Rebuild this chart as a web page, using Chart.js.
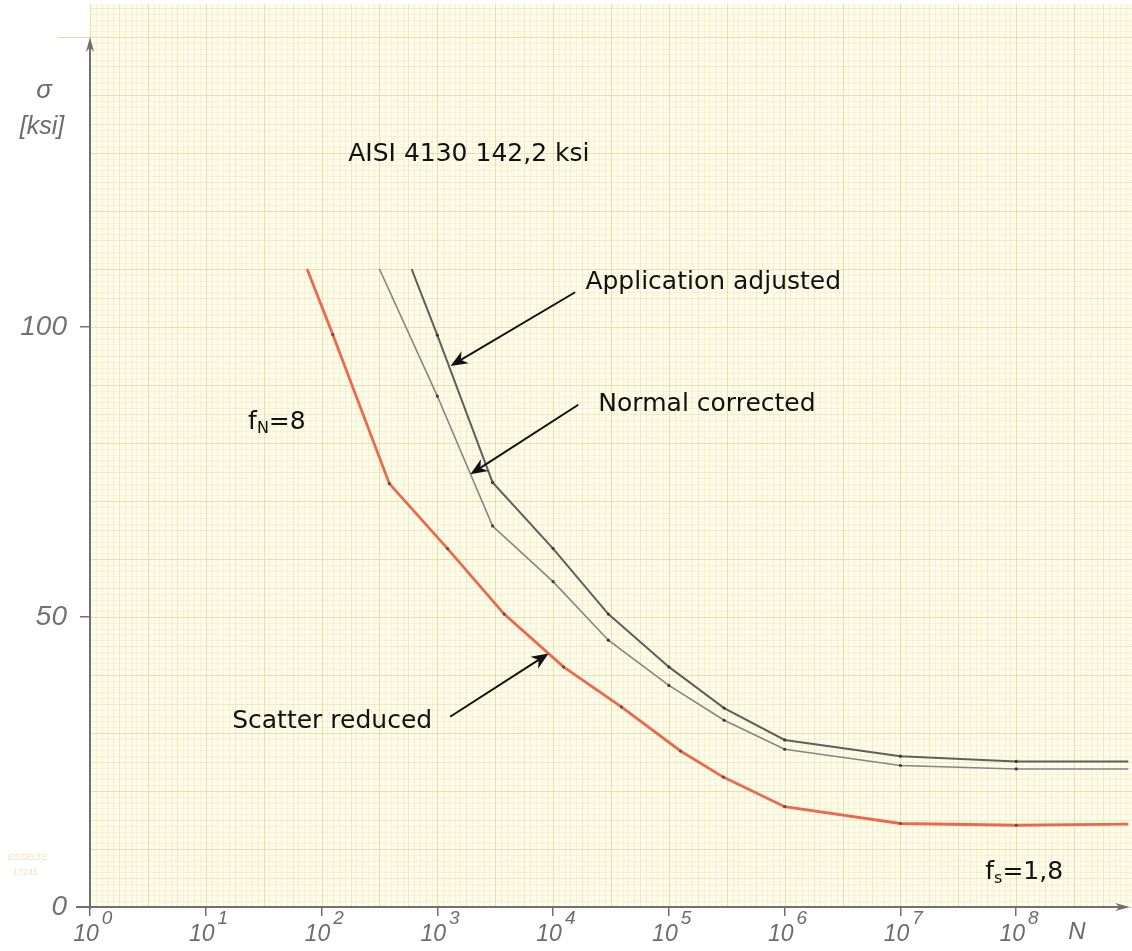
<!DOCTYPE html>
<html>
<head>
<meta charset="utf-8">
<script src="https://cdn.jsdelivr.net/npm/chart.js@4.4.1/dist/chart.umd.min.js"></script>
<style>
  html, body { margin: 0; padding: 0; background: #fff; }
  #wrap { width: 1132px; height: 951px; }
</style>
</head>
<body>
<div id="wrap"><canvas id="snChart" width="1132" height="951"></canvas></div>
<script>
// S-N curves for AISI 4130: cycles N against stress amplitude sigma [ksi]
const appliedN  = [600, 1000, 3000, 10000, 30000, 100000, 300000, 1e6, 1e7, 1e8, 9.3e8];
const appliedS  = [110, 98.6, 73.2, 61.8, 50.5, 41.4, 34.3, 28.8, 26.0, 25.1, 25.1];
const normalN   = [316, 1000, 3000, 10000, 30000, 100000, 300000, 1e6, 1e7, 1e8, 9.3e8];
const normalS   = [110, 88.1, 65.7, 56.1, 46.0, 38.2, 32.2, 27.2, 24.4, 23.8, 23.8];
const scatterN  = [75, 125, 385, 1225, 3780, 12300, 38900, 126000, 295000, 1e6, 1e7, 1e8, 9.3e8];
const scatterS  = [110, 98.7, 73.0, 61.8, 50.5, 41.4, 34.5, 26.9, 22.4, 17.3, 14.4, 14.1, 14.3];

const decades = [0, 1, 2, 3, 4, 5, 6, 7, 8];
const stressTicks = [0, 50, 100];
const supDigits = ['0', '1', '2', '3', '4', '5', '6', '7', '8'];

// labels and arrows, placed in (N, sigma)
const labels = [
  { text: 'AISI 4130 142,2 ksi', n: 170, s: 129.7 },
  { text: 'Application adjusted', n: 19000, s: 107.6 },
  { text: 'Normal corrected', n: 24600, s: 86.7 },
  { text: 'Scatter reduced', n: 16.9, s: 31.9 }
];
const factors = [
  { base: 'f', sub: 'N', rest: '=8', n: 23.2, s: 83.6 },
  { base: 'f', sub: 's', rest: '=1,8', n: 5.4e7, s: 6.0 }
];
const arrows = [
  { from: [15500, 106.0], to: [1300, 93.3] },
  { from: [16500, 86.6], to: [1930, 74.6] },
  { from: [1290, 32.8], to: [9140, 43.7] }
];

const HAND = "'Liberation Sans Narrow', 'Liberation Sans', sans-serif";
const TEXT = "'DejaVu Sans', Verdana, sans-serif";

function pairs(xs, ys) {
  return xs.map((v, i) => ({ x: v, y: ys[i] }));
}

function markers(len) {
  return Array.from({ length: len }, (_, i) => (i === 0 || i === len - 1) ? 0 : 1.6);
}

const paperPlugin = {
  id: 'paper',
  beforeDraw(chart) {
    const { ctx, chartArea: a, scales: { x, y } } = chart;
    ctx.save();
    ctx.fillStyle = '#fdfcea';
    ctx.fillRect(a.left, a.top, a.right - a.left, a.bottom - a.top);
    ctx.lineWidth = 1;
    const passes = [
      { test: k => k % 5 !== 0, colour: 'rgba(228,228,175,0.38)' },
      { test: k => k % 5 === 0 && k % 10 !== 0, colour: 'rgba(222,222,160,0.5)' },
      { test: k => k % 10 === 0, colour: 'rgba(218,216,150,0.72)' }
    ];
    passes.forEach(p => {
      ctx.strokeStyle = p.colour;
      ctx.beginPath();
      for (let k = 0; k <= 180; k++) {
        if (!p.test(k)) continue;
        const px = Math.round(x.getPixelForValue(Math.pow(10, k / 20))) + 0.5;
        if (px > a.right) break;
        ctx.moveTo(px, a.top);
        ctx.lineTo(px, a.bottom);
      }
      for (let j = 0; j <= 160; j++) {
        if (!p.test(j)) continue;
        const py = Math.round(y.getPixelForValue(j)) + 0.5;
        if (py < a.top) break;
        ctx.moveTo(a.left, py);
        ctx.lineTo(a.right, py);
      }
      ctx.stroke();
    });
    // ruled line running out past the left edge at 150
    const y150 = Math.round(y.getPixelForValue(150)) + 0.5;
    ctx.strokeStyle = 'rgba(218,216,150,0.8)';
    ctx.beginPath();
    ctx.moveTo(a.left - 32, y150);
    ctx.lineTo(a.left, y150);
    ctx.stroke();

    // paper maker's imprint
    ctx.fillStyle = 'rgba(222,205,130,0.55)';
    ctx.font = "9px 'Liberation Sans Narrow', 'Liberation Sans'";
    ctx.textAlign = 'left';
    ctx.textBaseline = 'middle';
    ctx.fillText('ESSELTE', 8, 858);
    ctx.fillText('17245', 13, 873);
    ctx.restore();
  }
};

function arrowHead(ctx, x1, y1, x2, y2, len, half) {
  const ang = Math.atan2(y2 - y1, x2 - x1);
  const c = Math.cos(ang), s = Math.sin(ang);
  ctx.beginPath();
  ctx.moveTo(x2, y2);
  ctx.lineTo(x2 - len * c + half * s, y2 - len * s - half * c);
  ctx.lineTo(x2 - len * 0.7 * c, y2 - len * 0.7 * s);
  ctx.lineTo(x2 - len * c - half * s, y2 - len * s + half * c);
  ctx.closePath();
  ctx.fill();
}

const axesPlugin = {
  id: 'handAxes',
  afterDraw(chart) {
    const { ctx, chartArea: a, scales: { x, y } } = chart;
    ctx.save();
    const x0 = x.getPixelForValue(1);
    const y0 = y.getPixelForValue(0);
    const yTop = y.getPixelForValue(150);
    ctx.strokeStyle = '#707070';
    ctx.fillStyle = '#707070';
    ctx.lineWidth = 2;
    ctx.beginPath();
    ctx.moveTo(x0, y0 + 2);
    ctx.lineTo(x0, yTop + 6);
    ctx.moveTo(x0 - 14, y0);
    ctx.lineTo(a.right - 8, y0);
    ctx.stroke();
    arrowHead(ctx, x0, y0, x0, yTop, 15, 4);
    arrowHead(ctx, x0, y0, a.right - 2, y0, 15, 4);

    // decade labels 10^k
    ctx.fillStyle = '#6c6c6c';
    ctx.textBaseline = 'alphabetic';
    decades.forEach(d => {
      const px = x.getPixelForValue(Math.pow(10, d));
      ctx.font = 'italic 23px ' + HAND;
      ctx.textAlign = 'center';
      ctx.fillText('10', px - 4, y0 + 34);
      const w = ctx.measureText('10').width;
      ctx.font = 'italic 19px ' + HAND;
      ctx.textAlign = 'left';
      ctx.fillText(supDigits[d], px - 4 + w / 2 + 3, y0 + 17);
    });
    ctx.font = 'italic 24px ' + HAND;
    ctx.textAlign = 'left';
    ctx.fillText('N', x.getPixelForValue(1e8) + 52, y0 + 32);

    // sigma axis title
    ctx.textAlign = 'center';
    ctx.font = 'italic 26px ' + HAND;
    ctx.fillText('\u03c3', 44, 98);
    ctx.font = 'italic 25px ' + HAND;
    ctx.fillText('[ksi]', 42, 134);
    ctx.restore();
  }
};

const notesPlugin = {
  id: 'notes',
  afterDatasetsDraw(chart) {
    const { ctx, scales: { x, y } } = chart;
    ctx.save();
    ctx.fillStyle = '#111';
    ctx.strokeStyle = '#111';
    ctx.textAlign = 'left';
    ctx.textBaseline = 'middle';
    ctx.font = '25px ' + TEXT;
    labels.forEach(l => {
      ctx.fillText(l.text, x.getPixelForValue(l.n), y.getPixelForValue(l.s));
    });
    factors.forEach(f => {
      let px = x.getPixelForValue(f.n);
      const py = y.getPixelForValue(f.s);
      ctx.font = '25px ' + TEXT;
      ctx.fillText(f.base, px, py);
      px += ctx.measureText(f.base).width;
      ctx.font = '16px ' + TEXT;
      ctx.fillText(f.sub, px, py + 7);
      px += ctx.measureText(f.sub).width;
      ctx.font = '25px ' + TEXT;
      ctx.fillText(f.rest, px, py);
    });
    ctx.lineWidth = 2;
    arrows.forEach(ar => {
      const x1 = x.getPixelForValue(ar.from[0]), y1 = y.getPixelForValue(ar.from[1]);
      const x2 = x.getPixelForValue(ar.to[0]), y2 = y.getPixelForValue(ar.to[1]);
      const ang = Math.atan2(y2 - y1, x2 - x1);
      ctx.beginPath();
      ctx.moveTo(x1, y1);
      ctx.lineTo(x2 - 10 * Math.cos(ang), y2 - 10 * Math.sin(ang));
      ctx.stroke();
      arrowHead(ctx, x1, y1, x2, y2, 17, 7);
    });
    ctx.restore();
  }
};

const ctx = document.getElementById('snChart').getContext('2d');
const chart = new Chart(ctx, {
  type: 'line',
  data: {
    datasets: [{
      label: 'Application adjusted',
      data: pairs(appliedN, appliedS),
      borderColor: '#5f5f5f',
      borderWidth: 2,
      pointRadius: markers(appliedN.length),
      pointBackgroundColor: '#3a3a3a',
      pointBorderWidth: 0
    }, {
      label: 'Normal corrected',
      data: pairs(normalN, normalS),
      borderColor: '#858585',
      borderWidth: 1.6,
      pointRadius: markers(normalN.length),
      pointBackgroundColor: '#3a3a3a',
      pointBorderWidth: 0
    }, {
      label: 'Scatter reduced',
      data: pairs(scatterN, scatterS),
      borderColor: 'rgba(236,92,64,0.92)',
      borderWidth: 2.8,
      pointRadius: markers(scatterN.length),
      pointBackgroundColor: '#6a4a44',
      pointBorderWidth: 0
    }]
  },
  options: {
    responsive: false,
    animation: false,
    layout: { padding: { top: 4, right: 0, left: 0, bottom: 0 } },
    plugins: {
      legend: { display: false },
      tooltip: { enabled: false }
    },
    elements: { line: { tension: 0 } },
    scales: {
      x: {
        type: 'logarithmic',
        min: 1,
        max: 1e9,
        afterBuildTicks: s => { s.ticks = decades.map(d => ({ value: Math.pow(10, d) })); },
        afterFit: s => { s.height = 44; s.paddingLeft = 0; s.paddingRight = 0; },
        ticks: { display: false },
        border: { display: false },
        grid: {
          drawOnChartArea: false,
          drawTicks: true,
          tickLength: 9,
          tickColor: '#707070',
          lineWidth: 1.5
        }
      },
      y: {
        type: 'linear',
        min: 0,
        max: 155.7,
        afterBuildTicks: s => { s.ticks = stressTicks.map(v => ({ value: v })); },
        afterFit: s => { s.width = 90; s.paddingTop = 0; s.paddingBottom = 0; },
        ticks: {
          padding: 13,
          color: '#727272',
          font: { family: HAND, size: 28, style: 'italic' }
        },
        border: { display: false },
        grid: {
          drawOnChartArea: false,
          drawTicks: true,
          tickLength: 10,
          tickColor: '#707070',
          lineWidth: 1.5
        }
      }
    }
  },
  plugins: [paperPlugin, axesPlugin, notesPlugin]
});
</script>
</body>
</html>
